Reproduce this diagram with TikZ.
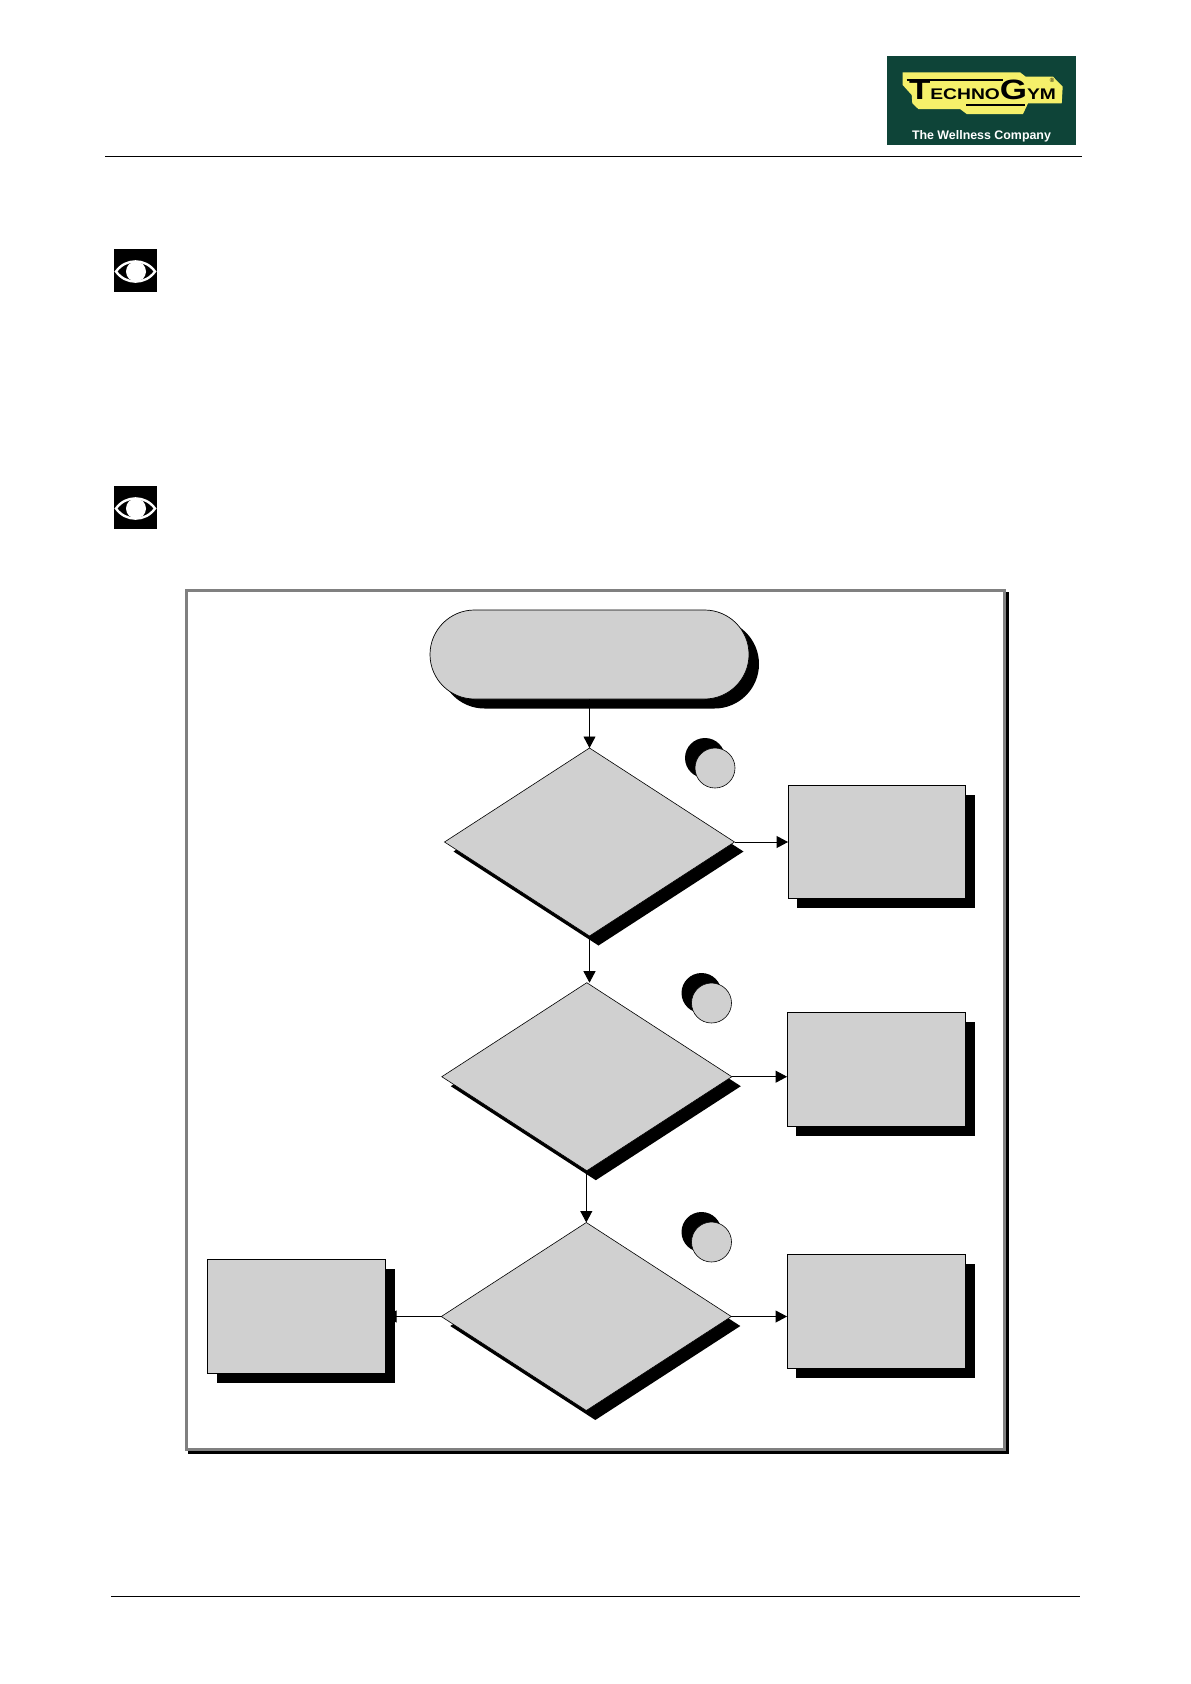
\documentclass[tikz,border=0pt]{standalone}
\usepackage{graphicx}
\usepackage{fontspec}
\setmainfont{Liberation Sans}
\usetikzlibrary{shapes.geometric,shapes.misc,arrows.meta,shadows}
\definecolor{boxgray}{HTML}{D0D0D0}
\definecolor{framegray}{HTML}{808080}
\definecolor{logogreen}{HTML}{0E4438}
\definecolor{logoyellow}{HTML}{F5F06A}
\tikzset{
  x=1pt,y=-1pt,
  every node/.style={inner sep=0pt,outer sep=0pt},
  hardshadow/.style args={#1/#2}{general shadow={shadow xshift=#1,shadow yshift=#2,fill=black,draw=none,opacity=1}},
  flowbox/.style={rectangle,draw=black,line width=0.8pt,fill=boxgray,minimum width=178pt,minimum height=114pt},
  decision/.style={diamond,draw=black,line width=0.6pt,fill=boxgray,hardshadow=9pt/-9.5pt,shape aspect=1.54,minimum width=290pt,minimum height=188pt},
  tag/.style={circle,draw=black,line width=0.6pt,fill=boxgray,minimum size=40pt,hardshadow=-10pt/10pt},
  conn/.style={draw=black,line width=0.9pt,-{Triangle[length=11.5pt,width=12pt]}},
  rulefine/.style={draw=black,line width=1pt},
  eyebox/.style={rectangle,fill=black,minimum size=43pt},
}
\begin{document}
\begin{tikzpicture}
\useasboundingbox (0,0) rectangle (1191,1684);
% rules
\coordinate (ta) at (105,156); \coordinate (tb) at (1082,156);
\coordinate (ba) at (111,1596); \coordinate (bb) at (1080,1596);
\draw[rulefine] (ta) -- (tb);
\draw[rulefine] (ba) -- (bb);
% logo
\node[rectangle,fill=logogreen,minimum width=189pt,minimum height=89pt] (logo) at (981.5,100.5) {};
\fill[logoyellow] (902.7,72.3) -- (1020,72.3) -- (1025.7,76.7) -- (1053,76.7) -- (1062.7,86.7) -- (1061.7,103.3) -- (1028,103.3) -- (1023,114) -- (966.7,114) -- (960,109) -- (918.3,109) -- (912.3,103.3) -- (911.7,95) -- (902.7,85) -- cycle;
\coordinate (tbarA) at (906.7,80); \coordinate (tbarB) at (1003,80);
\coordinate (ubarA) at (966,105); \coordinate (ubarB) at (1025,105);
\draw[black,line width=2.2pt] (tbarA) -- (tbarB);
\draw[black,line width=2.2pt] (ubarA) -- (ubarB);
\node[anchor=base west,text=black] (brand) at (909,99.5) {\scalebox{1.25}[1]{\bfseries\fontsize{28}{28}\selectfont T\fontsize{15.4}{15.4}\selectfont ECHNO\fontsize{28}{28}\selectfont G\fontsize{15.4}{15.4}\selectfont YM}};
\node[text=black,font=\fontsize{6}{6}\selectfont] (reg) at (1052,80.5) {®};
\node[anchor=base west,text=white,font=\bfseries\fontsize{12.4}{14}\selectfont] (slogan) at (912,139) {The Wellness Company};
% eye icons
\foreach \nm/\cy in {eyeA/270.5,eyeB/507.5}{
  \node[eyebox] (\nm) at (135.5,\cy) {};
  \begin{scope}[shift={(135.5,\cy)}]
    \draw[white,line width=2.4pt] (-19.5,1) .. controls (-10,-12.5) and (10,-12.5) .. (19.5,1) .. controls (10,14.5) and (-10,14.5) .. cycle;
    \fill[white] (0.5,1) circle[radius=10];
  \end{scope}
}
% frame
\node[rectangle,draw=framegray,fill=white,line width=3pt,minimum width=818pt,minimum height=859pt,
  general shadow={shadow xshift=3pt,shadow yshift=-3pt,fill=black,draw=black,line width=3pt,opacity=1}] (frame) at (595.5,1020) {};
% flow nodes
\node[rounded rectangle,draw=black,line width=0.7pt,fill=boxgray,minimum width=319pt,minimum height=89pt,hardshadow=10pt/-9.5pt] (start) at (589.5,654.5) {};
\node[decision] (d1) at (589.5,842) {};
\node[decision] (d2) at (586.8,1076.7) {};
\node[decision] (d3) at (586.3,1316.5) {};
\node[flowbox,hardshadow=9pt/-9.5pt,minimum width=177.7pt,minimum height=113pt] (r1) at (876.9,841.5) {};
\node[flowbox,hardshadow=9pt/-9.5pt,minimum width=178.7pt] (r2) at (876.4,1069) {};
\node[flowbox,hardshadow=9pt/-9.5pt,minimum width=178.7pt] (r3) at (876.4,1311) {};
\node[flowbox,hardshadow=10pt/-10pt] (r4) at (296,1316) {};
\node[tag] (c1) at (715,768) {};
\node[tag] (c2) at (711.5,1003) {};
\node[tag] (c3) at (711.5,1242) {};
% connectors
\draw[conn] (start.south) -- (d1.north);
\draw[conn] (d1.south) -- (d1.south |- d2.north);
\draw[conn] (d3.north |- d2.south) -- (d3.north);
\draw[conn] (d1.east) -- (d1.east -| r1.west);
\draw[conn] (d2.east) -- (d2.east -| r2.west);
\draw[conn] (d3.east) -- (d3.east -| r3.west);
\draw[conn] (d3.west) -- (d3.west -| r4.east);
\end{tikzpicture}
\end{document}
